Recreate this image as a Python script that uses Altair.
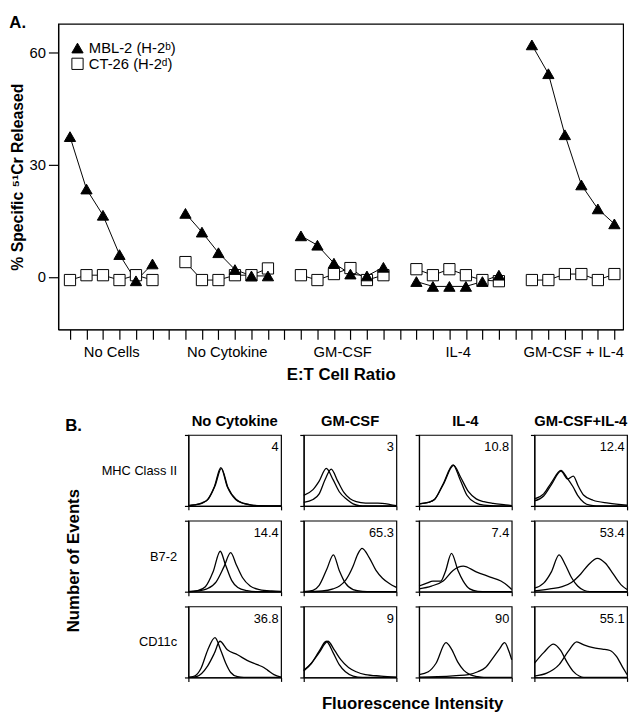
import altair as alt
import pandas as pd

FONT = "Liberation Sans"

# ---------------- Panel A data ----------------
groups = ["No Cells", "No Cytokine", "GM-CSF", "IL-4", "GM-CSF + IL-4"]
series_names = ["MBL-2 (H-2ᵇ)", "CT-26 (H-2ᵈ)"]
mbl2 = [
    [37.5, 23.5, 16.5, 6.0, -1.0, 3.5],
    [17.0, 12.0, 6.5, 2.0, 0.3, 0.3],
    [11.0, 8.5, 3.7, 0.8, 0.3, 2.6],
    [-1.2, -2.5, -2.5, -2.5, -1.2, 0.5],
    [62.0, 54.3, 38.0, 24.6, 18.2, 14.2],
]
ct26 = [
    [-0.8, 0.5, 0.5, -0.8, 0.5, -0.8],
    [4.0, -0.8, -0.8, 0.5, 0.5, 2.3],
    [0.5, -0.8, 0.8, 2.4, -0.8, 0.5],
    [2.1, 0.5, 2.1, 0.5, -0.8, -1.1],
    [-0.8, -0.8, 0.8, 0.8, -0.8, 0.8],
]

# ---------------- Panel B data ----------------
conds = ["No Cytokine", "GM-CSF", "IL-4", "GM-CSF+IL-4"]
markers = ["MHC Class II", "B7-2", "CD11c"]
pct = [["4", "3", "10.8", "12.4"], ["14.4", "65.3", "7.4", "53.4"], ["36.8", "9", "90", "55.1"]]

mhc_none_a = [(0, 0.5), (0.2, 1.5), (0.45, 4), (0.62, 9), (0.84, 27), (1.05, 54), (1.26, 27), (1.53, 9), (1.75, 4), (2.0, 1.5), (2.3, 0.3), (3, 0)]
mhc_none_b = [(0, 0.5), (0.2, 1.5), (0.45, 4.5), (0.65, 10), (0.86, 28), (1.07, 53), (1.28, 26), (1.55, 9), (1.8, 3.5), (2.05, 1.2), (2.4, 0.2), (3, 0)]
mhc_gm_a = [(0, 15), (0.3, 23), (0.5, 35), (0.73, 53), (0.95, 37), (1.15, 20), (1.4, 9), (1.6, 3), (1.8, 0.5), (2.0, 0), (3, 0)]
mhc_gm_b = [(0, 5), (0.3, 9), (0.5, 17), (0.7, 38), (0.89, 52), (1.1, 35), (1.3, 19), (1.5, 10), (1.7, 6), (2.0, 4), (2.4, 4), (2.8, 2), (3, 0.5)]
mhc_il4_a = [(0, 3), (0.3, 5), (0.5, 9), (0.78, 31), (1.1, 58), (1.32, 38), (1.55, 15), (1.85, 4), (2.1, 1), (2.5, 0), (3, 0)]
mhc_il4_b = [(0, 3), (0.3, 5), (0.5, 9), (0.78, 30), (1.12, 57), (1.35, 40), (1.6, 20), (1.85, 10), (2.1, 6), (2.4, 3.5), (2.8, 1.5), (3, 0.5)]
mhc_both_a = [(0, 10), (0.3, 17), (0.55, 33), (0.86, 50), (1.05, 40), (1.25, 27), (1.4, 15), (1.6, 5), (1.8, 1), (2.0, 0), (3, 0)]
mhc_both_b = [(0, 7), (0.3, 14), (0.55, 30), (0.86, 49), (1.08, 38), (1.26, 42), (1.42, 28), (1.6, 15), (1.9, 8), (2.4, 4), (3, 1)]

b72_none_a = [(0, 0), (0.3, 1.5), (0.55, 7), (0.8, 28), (1.03, 57), (1.2, 38), (1.4, 16), (1.6, 6), (1.9, 1.5), (2.2, 0), (3, 0)]
b72_none_b = [(0, 0), (0.3, 1), (0.6, 4), (0.9, 14), (1.15, 35), (1.37, 55), (1.55, 38), (1.75, 20), (2.0, 8), (2.3, 3), (2.7, 1), (3, 0.5)]
b72_gm_a = [(0, 0), (0.3, 2), (0.5, 9), (0.75, 32), (0.96, 52), (1.15, 30), (1.35, 12), (1.6, 3), (1.9, 0.5), (2.2, 0), (3, 0)]
b72_gm_b = [(0, 0), (0.6, 1), (0.95, 4), (1.16, 8), (1.37, 17), (1.59, 35), (1.75, 53), (1.89, 61), (2.12, 48), (2.34, 30), (2.55, 19), (2.76, 12), (3, 6)]
b72_il4_a = [(0, 8), (0.25, 12), (0.45, 15), (0.7, 15), (0.85, 28), (1.05, 54), (1.26, 30), (1.43, 15), (1.64, 4), (1.9, 0.5), (2.2, 0), (3, 0)]
b72_il4_b = [(0, 4), (0.4, 8), (0.78, 15), (1.1, 30), (1.43, 36), (1.85, 28), (2.28, 21), (2.65, 15), (2.85, 9), (3, 3)]
b72_both_a = [(0, 5), (0.3, 12), (0.55, 28), (0.8, 52), (1.0, 38), (1.2, 20), (1.4, 8), (1.6, 2), (1.8, 0), (3, 0)]
b72_both_b = [(0, 1), (0.5, 4), (0.9, 7), (1.2, 13), (1.5, 25), (1.75, 38), (2.04, 47), (2.3, 40), (2.55, 25), (2.8, 10), (3, 3)]

cd11_none_a = [(0, 0), (0.2, 2), (0.41, 13), (0.62, 38), (0.86, 56), (1.05, 38), (1.21, 20), (1.37, 7), (1.59, 1), (1.8, 0), (3, 0)]
cd11_none_b = [(0, 0), (0.25, 1), (0.62, 16), (0.84, 34), (1.02, 51), (1.26, 39), (1.59, 32), (1.9, 24), (2.23, 18), (2.44, 14), (2.57, 10), (2.77, 4), (3, 0.5)]
cd11_gm_a = [(0, 9), (0.25, 20), (0.5, 37), (0.73, 51), (0.95, 35), (1.15, 18), (1.35, 8), (1.6, 2), (1.9, 0), (3, 0)]
cd11_gm_b = [(0, 10), (0.25, 20), (0.5, 35), (0.78, 51), (1.0, 38), (1.2, 25), (1.45, 14), (1.7, 8), (2.0, 4), (2.5, 2), (3, 0.5)]
cd11_il4_a = [(0, 4), (0.3, 8), (0.55, 20), (0.87, 49), (1.05, 40), (1.25, 22), (1.45, 10), (1.65, 4), (1.9, 1), (2.1, 0), (3, 0)]
cd11_il4_b = [(0, 0.5), (0.6, 1), (1.2, 2.5), (1.6, 4), (1.9, 8), (2.15, 14), (2.4, 28), (2.6, 40), (2.77, 49), (2.9, 38), (3, 25)]
cd11_both_a = [(0, 20), (0.3, 35), (0.62, 47), (0.85, 38), (1.05, 22), (1.25, 9), (1.45, 2), (1.6, 0), (3, 0)]
cd11_both_b = [(0, 2), (0.4, 6), (0.8, 18), (1.1, 37), (1.37, 50), (1.6, 46), (1.9, 42), (2.2, 40), (2.45, 38), (2.65, 30), (2.85, 15), (3, 4)]

curve_sets = [
    [[mhc_none_a, mhc_none_b], [mhc_gm_a, mhc_gm_b], [mhc_il4_a, mhc_il4_b], [mhc_both_a, mhc_both_b]],
    [[b72_none_a, b72_none_b], [b72_gm_a, b72_gm_b], [b72_il4_a, b72_il4_b], [b72_both_a, b72_both_b]],
    [[cd11_none_a, cd11_none_b], [cd11_gm_a, cd11_gm_b], [cd11_il4_a, cd11_il4_b], [cd11_both_a, cd11_both_b]],
]

# ---------------- Build tables ----------------
rows_a = []
for s_name, vals in ((series_names[1], ct26), (series_names[0], mbl2)):
    for g, (gname, gv) in enumerate(zip(groups, vals)):
        for i, v in enumerate(gv):
            rows_a.append({"series": s_name, "group": gname, "pos": g * 7 + i, "value": v})
df_a = pd.DataFrame(rows_a)

rows_b = []
for r, m in enumerate(markers):
    for c, cond in enumerate(conds):
        for k, pts in enumerate(curve_sets[r][c]):
            for x, y in pts:
                rows_b.append({"marker": m, "cond": cond, "curve": k, "x": x, "y": y,
                               "kind": "line", "label": ""})
        rows_b.append({"marker": m, "cond": cond, "curve": -1, "x": None, "y": None,
                       "kind": "text", "label": pct[r][c]})
df_b = pd.DataFrame(rows_b)

# ---------------- Panel A ----------------
label_pos = [g * 7 + 2 for g in range(len(groups))]
label_expr = " : ".join(f"datum.value == {p} ? '{n}'" for p, n in zip(label_pos, groups)) + " : ''"

x_a = alt.X("pos:Q",
            scale=alt.Scale(domain=[-0.71, 33.53], nice=False, zero=False),
            axis=alt.Axis(values=list(range(34)), labelExpr=label_expr, labelOffset=8.4,
                          labelOverlap=False, labelFlush=False, tickSize=10, labelPadding=5,
                          labelFontSize=15, title="E:T Cell Ratio", titleFontSize=17,
                          titleFontWeight="bold", titlePadding=8, grid=False))
y_a = alt.Y("value:Q",
            scale=alt.Scale(domain=[-14, 67.6], nice=False, zero=False),
            axis=alt.Axis(values=[0, 30, 60], tickSize=10, labelPadding=3, labelFontSize=15,
                          title="% Specific ⁵¹Cr Released", titleFontSize=16,
                          titleFontWeight="bold", titlePadding=4, grid=False))

legend = alt.Legend(title=None, orient="none", legendX=12, legendY=17, labelFontSize=15,
                    symbolSize=130, symbolStrokeWidth=1,
                    rowPadding=-2, labelOffset=4, padding=0, symbolOpacity=1)

lines_a = alt.Chart(df_a).mark_line(color="black", strokeWidth=1).encode(
    x=x_a, y=y_a, detail=["series:N", "group:N"])
points_a = alt.Chart(df_a).mark_point(filled=True, strokeWidth=1, size=130, opacity=1).encode(
    x=x_a, y=y_a,
    shape=alt.Shape("series:N", scale=alt.Scale(domain=series_names, range=["triangle-up", "square"]),
                    legend=legend),
    fill=alt.Fill("series:N", scale=alt.Scale(domain=series_names, range=["black", "white"]),
                  legend=legend),
    stroke=alt.Stroke("series:N", scale=alt.Scale(domain=series_names, range=["black", "black"]),
                      legend=legend),
)
chart_a = alt.layer(lines_a, points_a).properties(
    width=573, height=310,
    title=alt.TitleParams("A.", anchor="start", offset=-8, fontSize=17))

# ---------------- Panel B ----------------
panels = []
for r, m in enumerate(markers):
    for c, cond in enumerate(conds):
        if c == 0:
            yaxis = alt.Axis(values=[0, 25, 50, 75, 100], labels=False, tickSize=4, grid=False,
                             title=m, titleAngle=0, titleAlign="right", titleBaseline="middle",
                             titleX=-12, titleY=36, titleFontSize=13, titleFontWeight="normal")
        else:
            yaxis = alt.Axis(values=[0, 25, 50, 75, 100], labels=False, tickSize=4, grid=False,
                             title=None)
        if r == 2 and c == 1:
            xaxis = alt.Axis(values=[0, 1, 2, 3], labels=False, tickSize=4, grid=False,
                             title="Fluorescence Intensity", titleX=110, titleY=19,
                             titleAlign="center", titleBaseline="top",
                             titleFontSize=17, titleFontWeight="bold")
        else:
            xaxis = alt.Axis(values=[0, 1, 2, 3], labels=False, title=None, tickSize=4, grid=False)
        hx = alt.X("x:Q", scale=alt.Scale(domain=[0, 3], nice=False, zero=False), axis=xaxis)
        hy = alt.Y("y:Q", scale=alt.Scale(domain=[0, 100], nice=False, zero=False), axis=yaxis)
        sel = f"datum.marker == '{m}' && datum.cond == '{cond}'"
        hist_lines = alt.Chart(df_b).mark_line(color="black", strokeWidth=1.3,
                                               interpolate="monotone").encode(
            x=hx, y=hy, detail="curve:N").transform_filter(sel + " && datum.kind == 'line'")
        hist_text = alt.Chart(df_b).mark_text(align="right", baseline="top", fontSize=13,
                                              color="black").encode(
            x=alt.datum(2.92), y=alt.datum(91), text="label:N"
        ).transform_filter(sel + " && datum.kind == 'text'")
        panel = alt.layer(hist_lines, hist_text).properties(width=94, height=72)
        if r == 0:
            panel = panel.properties(title=alt.TitleParams(cond, anchor="middle", frame="group",
                                                           fontSize=15, offset=5))
        panels.append(panel)

grid = alt.concat(*panels, columns=4, spacing={"row": 15, "column": 23}, bounds="flush")

spacer = alt.Chart(pd.DataFrame({"v": [0]})).mark_point(opacity=0).properties(
    width=5, height=10, view=alt.ViewBackground(stroke="transparent"))

label_chart = alt.Chart(pd.DataFrame({"v": [0]})).mark_point(opacity=0).encode(
    y=alt.Y("v:Q", axis=alt.Axis(title="Number of Events", labels=False, ticks=False,
                                 domain=False, grid=False, titlePadding=0,
                                 titleFontSize=17, titleFontWeight="bold"))
).properties(
    width=16, height=254, view=alt.ViewBackground(stroke="transparent"),
    title=alt.TitleParams("B.", anchor="start", offset=0, fontSize=17))

block_b = alt.hconcat(spacer, label_chart, grid, spacing=0)

chart = alt.vconcat(chart_a, block_b, spacing=30, padding=0).configure(
    font=FONT
).configure_view(
    stroke="black", strokeWidth=1.2
).configure_axis(
    domainColor="black", tickColor="black", labelColor="black", titleColor="black",
    domainWidth=1.2, tickWidth=1.2, labelFont=FONT, titleFont=FONT
).configure_title(
    font=FONT, fontSize=17, fontWeight="bold", color="black", anchor="start"
).configure_legend(labelFont=FONT, labelColor="black")

chart.save("out.html", embed_options={"renderer": "svg", "actions": False})
